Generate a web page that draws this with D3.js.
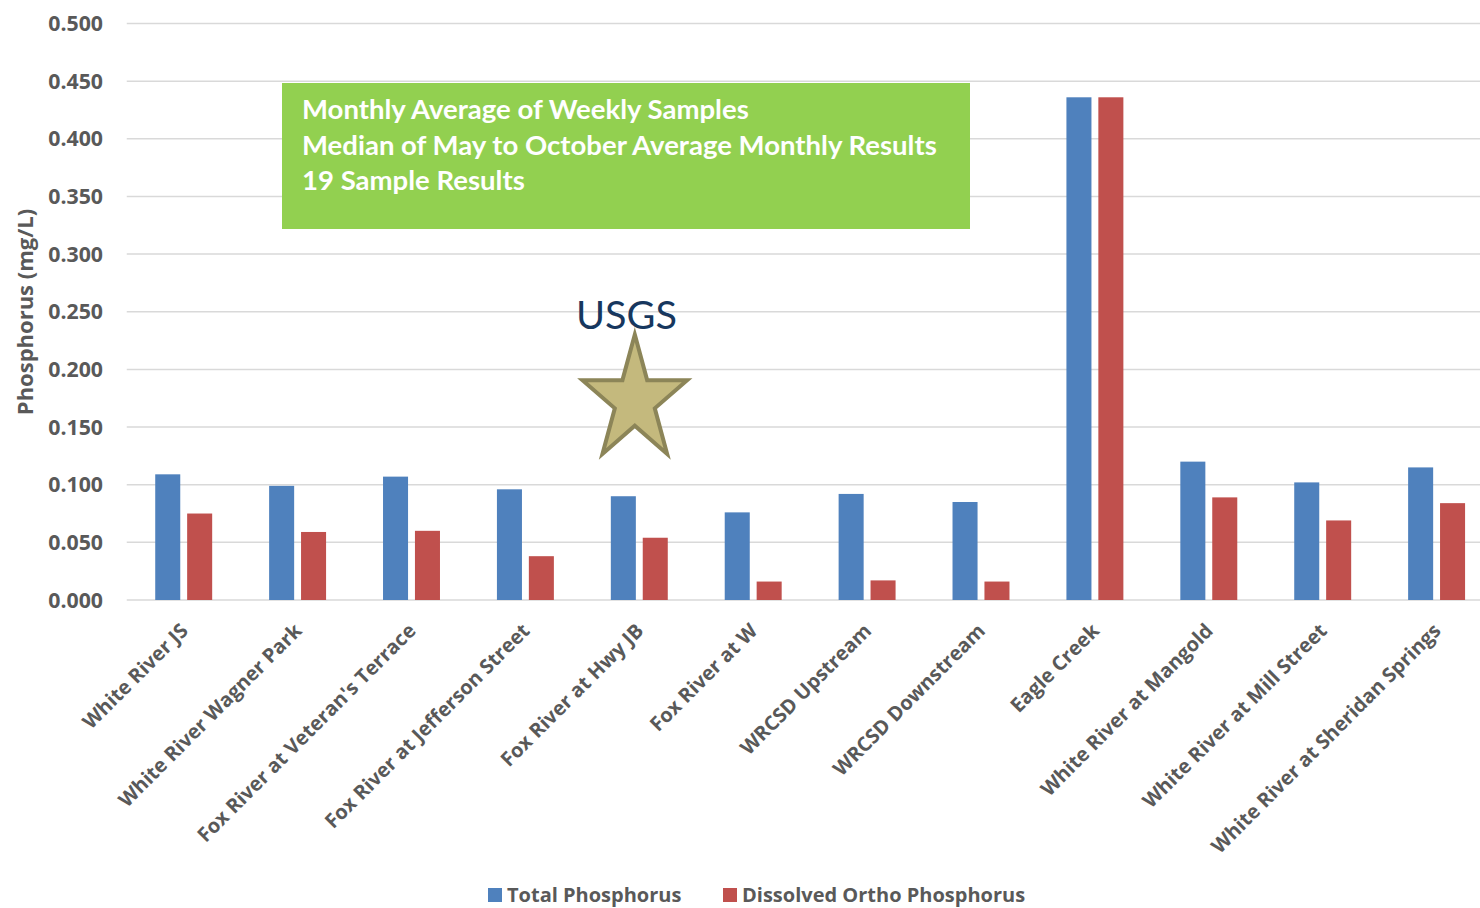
<!DOCTYPE html>
<html>
<head>
<meta charset="utf-8">
<script src="https://cdn.jsdelivr.net/npm/d3@7"></script>
<style>
  html, body { margin: 0; padding: 0; background: #ffffff; }
  svg { display: block; }
</style>
</head>
<body>
<svg id="chart" width="1480" height="908"></svg>
<script>
// ---- data ----
const categories = [
  "White River JS",
  "White River Wagner Park",
  "Fox River at Veteran's Terrace",
  "Fox River at Jefferson Street",
  "Fox River at Hwy JB",
  "Fox River at W",
  "WRCSD Upstream",
  "WRCSD Downstream",
  "Eagle Creek",
  "White River at Mangold",
  "White River at Mill Street",
  "White River at Sheridan Springs"
];
const totalPhosphorus = [0.109, 0.099, 0.107, 0.096, 0.090, 0.076, 0.092, 0.085, 0.436, 0.120, 0.102, 0.115];
const dissolvedOrthoPhosphorus = [0.075, 0.059, 0.060, 0.038, 0.054, 0.016, 0.017, 0.016, 0.436, 0.089, 0.069, 0.084];
const seriesNames = ["Total Phosphorus", "Dissolved Ortho Phosphorus"];
const seriesColors = ["#4F81BD", "#C0504D"];
const yTicks = [0, 0.05, 0.10, 0.15, 0.20, 0.25, 0.30, 0.35, 0.40, 0.45, 0.50];
const yTitle = "Phosphorus (mg/L)";
const noteLines = [
  "Monthly Average of Weekly Samples",
  "Median of May to October Average Monthly Results",
  "19 Sample Results"
];
const usgsLabel = "USGS";
const usgsCategory = "Fox River at Hwy JB";
const usgsValue = 0.173;

// ---- layout ----
const svg = d3.select("#chart");
const plot = { left: 126.75, right: 1493.55, top: 23.5, bottom: 600 };
const textGrey = "#595959";
const font = "'Open Sans', 'DejaVu Sans', sans-serif";

const x = d3.scaleBand().domain(categories).range([plot.left, plot.right]).paddingInner(0).paddingOuter(0);
const bw = x.bandwidth();
const x1 = d3.scaleBand().domain(seriesNames).range([bw * 0.25, bw * 0.75]).paddingInner(0.216).paddingOuter(0);
const y = d3.scaleLinear().domain([0, 0.5]).range([plot.bottom, plot.top]);

// gridlines
svg.append("g").selectAll("line").data(yTicks).join("line")
  .attr("x1", plot.left).attr("x2", 1480)
  .attr("y1", d => y(d)).attr("y2", d => y(d))
  .attr("stroke", "#d9d9d9").attr("stroke-width", 1.5);

// y tick labels
svg.append("g").selectAll("text").data(yTicks).join("text")
  .attr("x", 103).attr("y", d => y(d)).attr("dy", "0.36em")
  .attr("text-anchor", "end")
  .attr("font-family", font).attr("font-weight", "bold").attr("font-size", 21.3)
  .attr("fill", textGrey)
  .text(d => d3.format(".3f")(d));

// y title
svg.append("text")
  .attr("transform", `translate(33, 312) rotate(-90)`)
  .attr("text-anchor", "middle")
  .attr("font-family", font).attr("font-weight", "bold").attr("font-size", 22)
  .attr("fill", textGrey)
  .text(yTitle);

// bars
const rows = categories.map((c, i) => ({ cat: c, vals: [totalPhosphorus[i], dissolvedOrthoPhosphorus[i]] }));
const groups = svg.append("g").selectAll("g").data(rows).join("g")
  .attr("transform", d => `translate(${x(d.cat)},0)`);
groups.selectAll("rect").data(d => d.vals.map((v, j) => ({ v, j }))).join("rect")
  .attr("x", d => x1(seriesNames[d.j]))
  .attr("width", x1.bandwidth())
  .attr("y", d => y(d.v))
  .attr("height", d => y(0) - y(d.v))
  .attr("fill", d => seriesColors[d.j]);

// x labels
svg.append("g").selectAll("text").data(categories).join("text")
  .attr("transform", d => `translate(${x(d) + bw / 2 + 5.5}, 632) rotate(-45)`)
  .attr("text-anchor", "end")
  .attr("font-family", font).attr("font-weight", "bold").attr("font-size", 20)
  .attr("fill", textGrey)
  .text(d => d);

// green note box
const box = { x: 282, y: 83, w: 688, h: 146 };
svg.append("rect").attr("x", box.x).attr("y", box.y).attr("width", box.w).attr("height", box.h).attr("fill", "#92D050");
const note = svg.append("g");
const noteText = note.selectAll("text").data(noteLines).join("text")
  .attr("x", 302).attr("y", (d, i) => 119 + i * 35.5)
  .attr("font-family", "Lato, 'Open Sans', sans-serif").attr("font-weight", "bold").attr("font-size", 24)
  .attr("fill", "#ffffff")
  .text(d => d);
{
  const w = noteText.nodes()[1].getComputedTextLength();
  const fs = 24 * 635 / w;
  noteText.attr("font-size", fs);
}

// USGS star annotation
const starCx = x(usgsCategory) + bw / 2 - 4.5;
const starCy = y(usgsValue);
const sx = 55, sy = 66, inner = 0.382;
const starPts = d3.range(10).map(k => {
  const a = -Math.PI / 2 + k * Math.PI / 5;
  const r = k % 2 === 0 ? 1 : inner;
  return [starCx + Math.cos(a) * r * sx, starCy + Math.sin(a) * r * sy];
});
svg.append("path")
  .attr("d", d3.line()(starPts) + "Z")
  .attr("fill", "#C4B97D").attr("stroke", "#8C8558").attr("stroke-width", 4).attr("stroke-linejoin", "miter");

const usgs = svg.append("text")
  .attr("x", 576).attr("y", 329)
  .attr("font-family", "Lato, 'Open Sans', sans-serif").attr("font-size", 40)
  .attr("fill", "#17375E")
  .text(usgsLabel);
{
  const w = usgs.node().getComputedTextLength();
  usgs.attr("font-size", 40 * 101 / w);
}

// legend
const legend = svg.append("g");
const legendX = [488, 723];
seriesNames.forEach((s, i) => {
  legend.append("rect").attr("x", legendX[i]).attr("y", 888).attr("width", 14).attr("height", 14).attr("fill", seriesColors[i]);
  legend.append("text").attr("x", legendX[i] + 19).attr("y", 895).attr("dy", "0.36em")
    .attr("font-family", font).attr("font-weight", "bold").attr("font-size", 20)
    .attr("fill", textGrey).text(s);
});
</script>
</body>
</html>
